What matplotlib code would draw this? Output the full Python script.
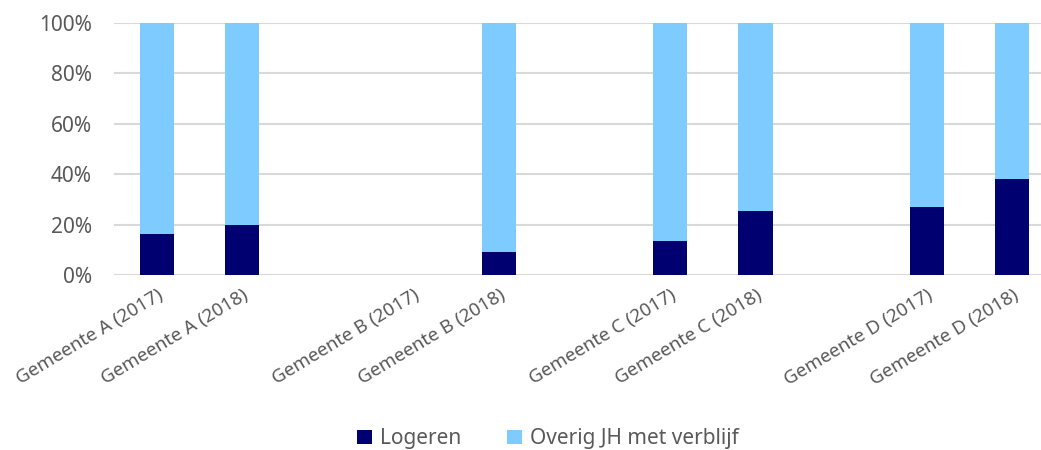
import numpy as np
import matplotlib.pyplot as plt
from matplotlib.ticker import PercentFormatter

plt.rcParams['font.family'] = ['Noto Sans', 'DejaVu Sans']

# categorieen (lege plekken tussen de gemeenten)
labels = ['Gemeente A (2017)', 'Gemeente A (2018)', '',
          'Gemeente B (2017)', 'Gemeente B (2018)', '',
          'Gemeente C (2017)', 'Gemeente C (2018)', '',
          'Gemeente D (2017)', 'Gemeente D (2018)']
logeren = [16.3, 19.8, 0, 0, 9.2, 0, 13.5, 25.4, 0, 27.0, 38.2]
overig = [83.7, 80.2, 0, 0, 90.8, 0, 86.5, 74.6, 0, 73.0, 61.8]

navy = '#000070'
lichtblauw = '#7DCBFF'
grijs = '#595959'

fig = plt.figure(figsize=(10.41, 4.5), dpi=100)
ax = fig.add_axes([114/1041, 175/450, 941/1041, 252/450])

x = np.arange(len(labels))
ax.bar(x, logeren, width=0.4, color=navy, label='Logeren', zorder=3)
ax.bar(x, overig, width=0.4, bottom=logeren, color=lichtblauw,
       label='Overig JH met verblijf', zorder=3)

ax.set_xlim(-0.5, len(labels) - 0.5)
ax.set_ylim(0, 100)
ax.set_yticks([0, 20, 40, 60, 80, 100])
ax.yaxis.set_major_formatter(PercentFormatter(decimals=0))
ax.grid(axis='y', color='#D9D9D9', linewidth=1.5, zorder=0)

tick_pos = [i for i, l in enumerate(labels) if l]
ax.set_xticks(tick_pos)
ax.set_xticklabels([labels[i] for i in tick_pos], rotation=31, ha='right',
                   rotation_mode='anchor')
ax.tick_params(axis='both', length=0, colors=grijs)
ax.tick_params(axis='y', pad=16, labelsize=15)
ax.tick_params(axis='x', pad=8, labelsize=13.5)
for s in ax.spines.values():
    s.set_visible(False)

fig.legend(loc='lower center', bbox_to_anchor=(548/1041, -0.04), ncol=2,
           frameon=False, fontsize=15, labelcolor=grijs, handlelength=0.7,
           handleheight=0.7, columnspacing=2.2, handletextpad=0.4)

plt.savefig('out.png', dpi=100)
